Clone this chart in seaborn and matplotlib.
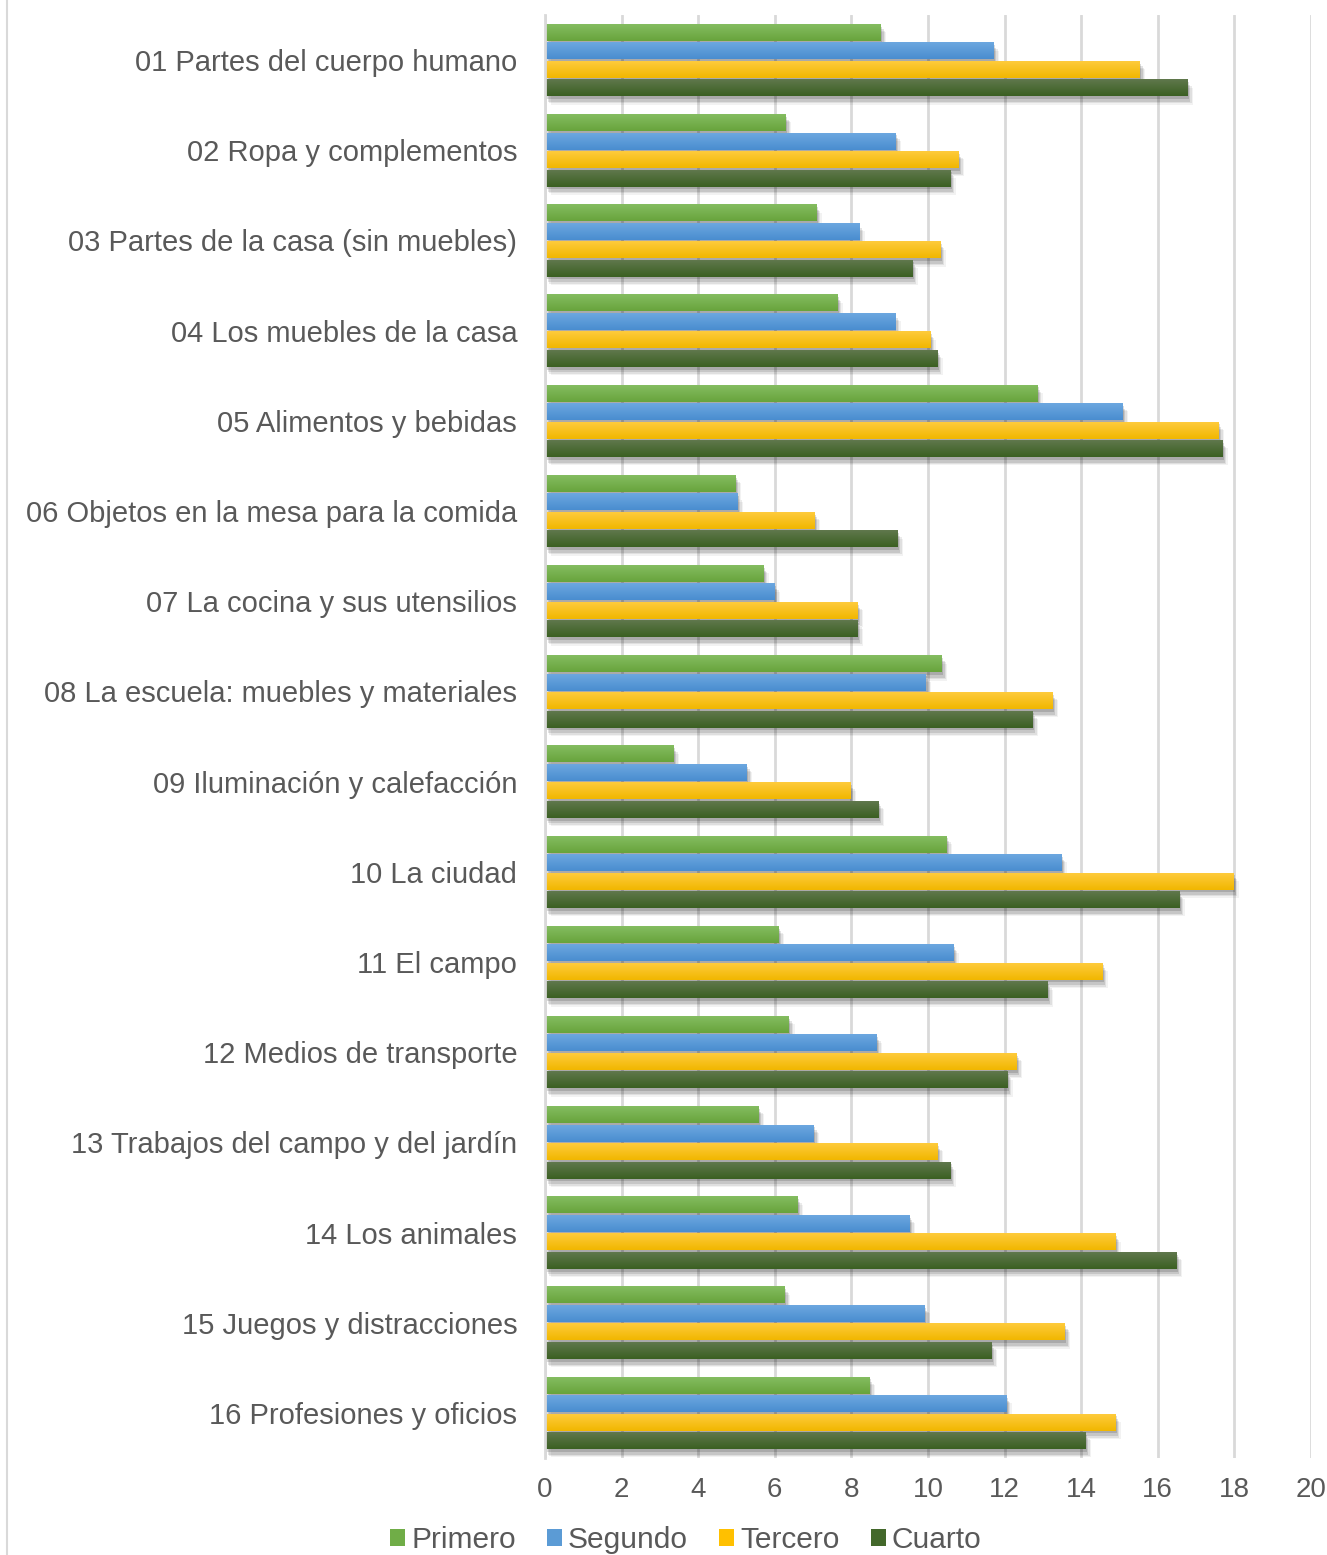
import numpy as np
import pandas as pd
import seaborn as sns
import matplotlib.pyplot as plt
import matplotlib.patheffects as pe
from matplotlib.colors import LinearSegmentedColormap
from matplotlib.lines import Line2D
from matplotlib.patches import Patch

categorias = [
    "01 Partes del cuerpo humano",
    "02 Ropa y complementos",
    "03 Partes de la casa (sin muebles)",
    "04 Los muebles de la casa",
    "05 Alimentos y bebidas",
    "06 Objetos en la mesa para la comida",
    "07 La cocina y sus utensilios",
    "08 La escuela: muebles y materiales",
    "09 Iluminación y calefacción",
    "10 La ciudad",
    "11 El campo",
    "12 Medios de transporte",
    "13 Trabajos del campo y del jardín",
    "14 Los animales",
    "15 Juegos y distracciones",
    "16 Profesiones y oficios",
]

primero = [8.77, 6.29, 7.08, 7.63, 12.85, 4.97, 5.70, 10.36, 3.36, 10.48, 6.10, 6.37, 5.58, 6.59, 6.26, 8.47]
segundo = [11.71, 9.15, 8.20, 9.14, 15.08, 5.03, 5.99, 9.93, 5.27, 13.48, 10.66, 8.66, 7.02, 9.52, 9.91, 12.04]
tercero = [15.53, 10.80, 10.32, 10.06, 17.59, 7.04, 8.16, 13.25, 7.98, 17.97, 14.55, 12.31, 10.25, 14.89, 13.57, 14.89]
cuarto = [16.78, 10.58, 9.59, 10.24, 17.68, 9.20, 8.16, 12.73, 8.71, 16.56, 13.12, 12.07, 10.58, 16.49, 11.66, 14.11]

niveles = ["Primero", "Segundo", "Tercero", "Cuarto"]
x_ticks = [0, 2, 4, 6, 8, 10, 12, 14, 16, 18, 20]

colores = {"Primero": "#70AD47", "Segundo": "#5B9BD5", "Tercero": "#FFC000", "Cuarto": "#43682B"}
# light top -> base bottom shading for each series
degradados = {
    "Primero": ("#86be63", "#68a43c"),
    "Segundo": ("#6ea9e1", "#4a8dcf"),
    "Tercero": ("#ffcc40", "#f1b700"),
    "Cuarto": ("#62794f", "#3b6022"),
}

df = pd.DataFrame({
    "Categoria": categorias * 4,
    "Nivel": np.repeat(niveles, len(categorias)),
    "Valor": primero + segundo + tercero + cuarto,
})

sns.set_theme(style="white")
plt.rcParams["font.family"] = ["Liberation Sans", "DejaVu Sans"]

fig = plt.figure(figsize=(13.27, 15.55), dpi=100)
ax = fig.add_axes([545 / 1327, 97 / 1555, 766 / 1327, 1443 / 1555])

sns.barplot(data=df, y="Categoria", x="Valor", hue="Nivel", hue_order=niveles,
            palette=colores, orient="h", width=0.82, gap=0.08, ax=ax,
            legend=False, errorbar=None, saturation=1, linewidth=0)

ax.set_xlim(0, 20)
ylim = ax.get_ylim()

# layered soft drop shadow plus vertical gradient on every bar
sombra = [
    pe.SimplePatchShadow(offset=(4, -6), shadow_rgbFace="#000000", alpha=0.05),
    pe.SimplePatchShadow(offset=(3, -5), shadow_rgbFace="#000000", alpha=0.08),
    pe.SimplePatchShadow(offset=(2, -4), shadow_rgbFace="#000000", alpha=0.11),
    pe.SimplePatchShadow(offset=(1, -2), shadow_rgbFace="#000000", alpha=0.14),
    pe.Normal(),
]
for i, patch in enumerate(ax.patches):
    nivel = niveles[i // len(categorias)]
    patch.set_path_effects(sombra)
    x0, y0 = patch.get_x(), patch.get_y()
    w, h = patch.get_width(), patch.get_height()
    cmap = LinearSegmentedColormap.from_list(nivel, degradados[nivel])
    grad = np.linspace(0, 1, 64).reshape(-1, 1)
    im = ax.imshow(grad, cmap=cmap, aspect="auto", interpolation="bilinear",
                   extent=[x0, x0 + w, y0 + h, y0], zorder=patch.get_zorder() + 0.01)
    im.set_clip_path(patch)

ax.set_xlim(0, 20)
ax.set_ylim(ylim)

ax.set_xticks(x_ticks)
ax.set_xticklabels([str(t) for t in x_ticks])
ax.xaxis.grid(True, color="#D9D9D9", linewidth=2)
ax.set_axisbelow(True)
ax.set_xlabel("")
ax.set_ylabel("")
for s in ["top", "right", "bottom"]:
    ax.spines[s].set_visible(False)
ax.spines["left"].set_color("#D9D9D9")
ax.spines["left"].set_linewidth(2)

ax.tick_params(axis="y", length=0, pad=20, labelsize=21, labelcolor="#595959")
ax.tick_params(axis="x", length=0, pad=14, labelsize=20, labelcolor="#595959")

handles = [Patch(facecolor=colores[n], edgecolor="none") for n in niveles]
fig.legend(handles, niveles, loc="center", bbox_to_anchor=(686 / 1327, 1 - 1540 / 1555),
           ncol=4, frameon=False, handlelength=0.5, handleheight=0.5,
           handletextpad=0.2, columnspacing=1.05,
           prop={"size": 21.5}, labelcolor="#595959")

fig.add_artist(Line2D([7 / 1327, 7 / 1327], [0, 1], color="#D9D9D9", linewidth=1.5))

fig.savefig("out.png", dpi=100)
